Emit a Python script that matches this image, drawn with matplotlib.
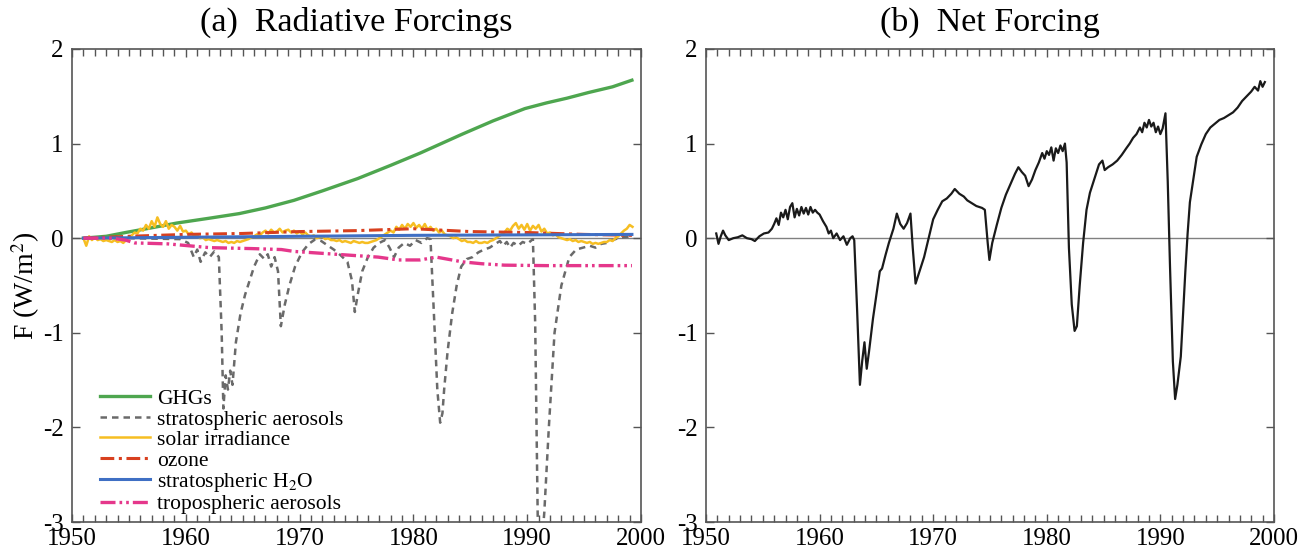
import matplotlib
matplotlib.use("Agg")
import matplotlib.pyplot as plt
from matplotlib.ticker import MultipleLocator

plt.rcParams['font.family'] = ['Liberation Serif', 'DejaVu Serif']
plt.rcParams['mathtext.fontset'] = 'stix'

# ---- data (year, W/m2) ----
ghg_years = [1951.0, 1953.0, 1954.7, 1957.0, 1959.2, 1962.0, 1964.7, 1967.0, 1969.5, 1972.0,
             1975.1, 1978.0, 1980.6, 1984.3, 1987.0, 1989.8, 1991.7, 1993.5, 1995.4, 1997.5, 1999.2]
ghg_vals = [0.0, 0.02, 0.06, 0.11, 0.16, 0.21, 0.26, 0.32, 0.40, 0.50,
            0.63, 0.77, 0.90, 1.10, 1.24, 1.37, 1.43, 1.48, 1.54, 1.60, 1.67]

strat_years = [1950.9, 1955.0, 1959.5, 1960.2, 1960.7, 1961.0, 1961.3, 1961.7, 1962.1, 1962.5,
               1962.9, 1963.15, 1963.3, 1963.5, 1963.7, 1963.9, 1964.1, 1964.4, 1964.8, 1965.2,
               1965.6, 1966.0, 1966.5, 1966.9, 1967.2, 1967.5, 1967.8, 1968.1, 1968.35, 1968.7,
               1969.1, 1969.6, 1970.2, 1970.8, 1971.4, 1971.9, 1972.5, 1973.0, 1973.6, 1974.2,
               1974.6, 1974.85, 1975.1, 1975.5, 1976.0, 1976.5, 1977.0, 1977.5, 1977.9, 1978.3,
               1978.7, 1979.2, 1979.7, 1980.2, 1980.7, 1981.2, 1981.5, 1981.8, 1982.1, 1982.35,
               1982.55, 1982.7, 1983.0, 1983.4, 1983.8, 1984.2, 1984.7, 1985.2, 1985.7, 1986.2,
               1986.7, 1987.2, 1987.6, 1987.9, 1988.2, 1988.5, 1988.8, 1989.2, 1989.6, 1990.0,
               1990.5, 1990.7, 1990.95, 1991.3, 1991.5, 1991.9, 1992.4, 1993.0, 1993.7, 1994.3,
               1994.9, 1995.5, 1996.0, 1996.5, 1997.0, 1997.5, 1998.0, 1998.5, 1999.2]
strat_vals = [0.0, 0.0, -0.01, -0.05, -0.2, -0.12, -0.25, -0.15, -0.2, -0.14,
              -0.2, -1.0, -1.8, -1.45, -1.6, -1.4, -1.55, -1.1, -0.8, -0.6,
              -0.45, -0.3, -0.17, -0.22, -0.17, -0.3, -0.2, -0.35, -0.93, -0.7,
              -0.5, -0.3, -0.15, -0.06, -0.01, -0.03, -0.08, -0.12, -0.18, -0.25,
              -0.45, -0.78, -0.6, -0.35, -0.2, -0.1, -0.05, -0.02, -0.1, -0.2,
              -0.1, -0.05, -0.08, -0.02, -0.05, 0.0, -0.01, -0.8, -1.6, -1.95,
              -1.85, -1.6, -1.2, -0.8, -0.5, -0.3, -0.22, -0.2, -0.15, -0.12,
              -0.1, -0.06, -0.03, -0.08, -0.04, -0.1, -0.05, -0.08, -0.04, -0.06,
              -0.01, -0.9, -3.2, -3.2, -2.9, -2.0, -1.0, -0.5, -0.2, -0.12,
              -0.1, -0.08, -0.1, -0.06, -0.05, -0.02, 0.0, 0.01, 0.02]

# solar irradiance, quarterly from 1951.0
solar_start = 1951.0
solar_vals = [0.0, -0.08, 0.02, -0.02, 0.01, -0.02, -0.01, -0.03,
              -0.02, -0.03, -0.04, -0.02, -0.04, -0.03, -0.05, -0.02,
              0.0, 0.03, 0.06, 0.05, 0.1, 0.08, 0.14, 0.1,
              0.18, 0.12, 0.22, 0.15, 0.12, 0.18, 0.1, 0.14,
              0.12, 0.08, 0.13, 0.07, 0.08, 0.04, 0.06, 0.02,
              0.03, 0.0, 0.01, -0.02, -0.01, -0.02, -0.03, -0.02,
              -0.03, -0.04, -0.03, -0.05, -0.04, -0.05, -0.03, -0.04,
              -0.03, -0.02, -0.01, 0.01, 0.02, 0.04, 0.03, 0.06,
              0.08, 0.05, 0.09, 0.06, 0.07, 0.1, 0.06, 0.08,
              0.09, 0.06, 0.08, 0.05, 0.07, 0.04, 0.06, 0.03,
              0.02, 0.03, 0.0, 0.01, 0.02, -0.01, 0.0, -0.02,
              -0.02, -0.03, -0.02, -0.04, -0.03, -0.04, -0.05, -0.03,
              -0.04, -0.05, -0.04, -0.05, -0.05, -0.04, -0.03, -0.02,
              0.0, 0.02, 0.04, 0.06, 0.08, 0.06, 0.12, 0.09,
              0.14, 0.1, 0.15, 0.12, 0.16, 0.11, 0.14, 0.1,
              0.15, 0.09, 0.12, 0.08, 0.1, 0.06, 0.08, 0.04,
              0.03, 0.02, 0.0, 0.01, -0.01, -0.03, -0.02, -0.04,
              -0.04, -0.05, -0.03, -0.05, -0.05, -0.04, -0.05, -0.03,
              -0.02, 0.0, 0.02, 0.04, 0.06, 0.1, 0.08, 0.13,
              0.16, 0.1, 0.14, 0.09, 0.15, 0.08, 0.13, 0.1,
              0.14, 0.07, 0.1, 0.05, 0.06, 0.03, 0.04, 0.01,
              0.0, -0.01, -0.02, -0.01, -0.03, -0.02, -0.04, -0.03,
              -0.04, -0.05, -0.04, -0.06, -0.05, -0.06, -0.05, -0.04,
              -0.04, -0.02, -0.03, 0.0, 0.02, 0.05, 0.08, 0.1,
              0.14, 0.12]
solar_years = [solar_start + 0.25 * i for i in range(len(solar_vals))]

ozone_years = [1951.0, 1955.0, 1960.0, 1965.0, 1970.0, 1975.0, 1980.0, 1985.0, 1990.0, 1995.0, 1999.2]
ozone_vals = [0.0, 0.02, 0.04, 0.05, 0.07, 0.08, 0.10, 0.07, 0.06, 0.04, 0.03]

h2o_years = [1951.0, 1960.0, 1970.0, 1980.0, 1990.0, 1999.2]
h2o_vals = [0.0, 0.01, 0.02, 0.03, 0.035, 0.04]

trop_years = [1951.0, 1953.5, 1954.7, 1955.5, 1958.4, 1962.1, 1965.8, 1968.4, 1969.5, 1973.2,
              1976.9, 1978.7, 1980.6, 1982.0, 1984.3, 1986.0, 1988.0, 1991.7, 1999.2]
trop_vals = [0.0, 0.0, -0.02, -0.05, -0.06, -0.10, -0.11, -0.12, -0.14, -0.17,
             -0.20, -0.23, -0.23, -0.20, -0.25, -0.27, -0.285, -0.29, -0.29]

net_years = [1950.9, 1951.1, 1951.3, 1951.5, 1951.7, 1952.0, 1952.4, 1952.8, 1953.2, 1953.6,
             1954.0, 1954.3, 1954.7, 1955.1, 1955.5, 1955.8, 1956.0, 1956.2, 1956.4, 1956.6,
             1956.8, 1957.0, 1957.2, 1957.4, 1957.6, 1957.8, 1958.0, 1958.2, 1958.4, 1958.6,
             1958.8, 1959.0, 1959.2, 1959.4, 1959.6, 1959.8, 1960.0, 1960.3, 1960.6, 1960.8,
             1961.0, 1961.2, 1961.5, 1961.8, 1962.1, 1962.4, 1962.7, 1962.9, 1963.05, 1963.3,
             1963.55, 1963.75, 1963.95, 1964.15, 1964.35, 1964.7, 1965.0, 1965.3, 1965.5, 1965.8,
             1966.1, 1966.5, 1966.8, 1967.1, 1967.4, 1967.7, 1968.0, 1968.2, 1968.45, 1968.8,
             1969.2, 1969.6, 1970.0, 1970.4, 1970.8, 1971.2, 1971.6, 1971.9, 1972.3, 1972.7,
             1973.0, 1973.4, 1973.8, 1974.3, 1974.55, 1974.8, 1974.95, 1975.2, 1975.6, 1976.0,
             1976.4, 1976.8, 1977.2, 1977.5, 1977.8, 1978.1, 1978.4, 1978.7, 1979.0, 1979.3,
             1979.6, 1979.8, 1980.0, 1980.2, 1980.4, 1980.6, 1980.8, 1981.0, 1981.2, 1981.4,
             1981.6, 1981.75, 1981.95, 1982.2, 1982.45, 1982.65, 1982.9, 1983.2, 1983.5, 1983.8,
             1984.2, 1984.6, 1984.9, 1985.1, 1985.4, 1985.8, 1986.2, 1986.6, 1987.0, 1987.3,
             1987.6, 1987.9, 1988.2, 1988.4, 1988.6, 1988.8, 1989.0, 1989.2, 1989.4, 1989.6,
             1989.8, 1990.0, 1990.2, 1990.45, 1990.65, 1990.85, 1991.1, 1991.3, 1991.5, 1991.8,
             1992.0, 1992.2, 1992.4, 1992.6, 1992.9, 1993.2, 1993.6, 1994.0, 1994.4, 1994.8,
             1995.2, 1995.6, 1996.0, 1996.4, 1996.8, 1997.2, 1997.6, 1998.0, 1998.3, 1998.6,
             1998.8, 1999.0, 1999.2]
net_vals = [0.05, -0.06, 0.02, 0.08, 0.03, -0.02, 0.0, 0.01, 0.03, 0.0,
            -0.01, -0.03, 0.02, 0.05, 0.06, 0.1, 0.15, 0.21, 0.14, 0.27,
            0.22, 0.3, 0.2, 0.33, 0.37, 0.22, 0.31, 0.24, 0.33, 0.26,
            0.32, 0.25, 0.33, 0.27, 0.3, 0.27, 0.25, 0.18, 0.12, 0.05,
            0.08, 0.0, 0.05, -0.02, 0.02, -0.07, 0.0, 0.02, -0.02, -0.75,
            -1.55, -1.3, -1.1, -1.38, -1.2, -0.85, -0.6, -0.35, -0.32, -0.18,
            -0.05, 0.1, 0.26, 0.15, 0.1, 0.16, 0.26, -0.1, -0.48, -0.35,
            -0.2, 0.0, 0.2, 0.3, 0.39, 0.42, 0.47, 0.52, 0.47, 0.44,
            0.4, 0.37, 0.34, 0.32, 0.3, -0.05, -0.23, -0.05, 0.14, 0.32,
            0.46, 0.57, 0.68, 0.75, 0.7, 0.66, 0.55, 0.62, 0.72, 0.8,
            0.9, 0.84, 0.92, 0.88, 0.96, 0.82, 0.95, 0.9, 0.98, 0.92,
            1.0, 0.8, -0.1, -0.7, -0.98, -0.93, -0.5, -0.05, 0.3, 0.48,
            0.63, 0.78, 0.82, 0.72, 0.75, 0.78, 0.82, 0.88, 0.95, 1.0,
            1.06, 1.1, 1.17, 1.12, 1.22, 1.17, 1.25, 1.18, 1.22, 1.12,
            1.18, 1.1, 1.16, 1.32, 0.6, -0.3, -1.3, -1.7, -1.55, -1.25,
            -0.8, -0.35, 0.05, 0.38, 0.62, 0.86, 0.99, 1.1, 1.17, 1.21,
            1.25, 1.27, 1.3, 1.33, 1.38, 1.45, 1.5, 1.55, 1.6, 1.56,
            1.66, 1.6, 1.65]

fig = plt.figure(figsize=(13.05, 5.52), dpi=100)
ax1 = fig.add_axes([0.0552, 0.0543, 0.436, 0.857])
ax2 = fig.add_axes([0.541, 0.0543, 0.4352, 0.857])

for ax in (ax1, ax2):
    ax.set_xlim(1950, 2000)
    ax.set_ylim(-3, 2)
    ax.axhline(0, color='#808080', lw=1.0, zorder=1)
    ax.xaxis.set_major_locator(MultipleLocator(10))
    ax.xaxis.set_minor_locator(MultipleLocator(1))
    ax.yaxis.set_major_locator(MultipleLocator(1))
    ax.tick_params(which='both', direction='in', top=True, right=True,
                   color='#555555', width=1.0, labelsize=18)
    ax.tick_params(which='major', length=6, pad=4)
    ax.tick_params(which='minor', length=5)
    ax.tick_params(axis='y', pad=6)
    for s in ax.spines.values():
        s.set_color('#555555')
        s.set_linewidth(1.2)
    ax.set_yticks([-3, -2, -1, 0, 1, 2])
    ax.set_yticklabels(['-3', '-2', '-1', '0', '1', '2'])

# (a) individual forcings
ax1.plot(ghg_years, ghg_vals, color='#4ea64f', lw=2.4, label='GHGs', zorder=3)
ax1.plot(strat_years, strat_vals, color='#6a6a6a', lw=1.8, dashes=(2.6, 2.0),
         label='stratospheric aerosols', zorder=3)
ax1.plot(solar_years, solar_vals, color='#f6be22', lw=1.8, label='solar irradiance', zorder=3)
ax1.plot(ozone_years, ozone_vals, color='#d8401f', lw=2.2, dashes=(4.5, 1.5, 1.0, 1.5),
         label='ozone', zorder=4)
ax1.plot(h2o_years, h2o_vals, color='#3f6fc4', lw=2.2, label='stratospheric H$_2$O', zorder=5)
ax1.plot(trop_years, trop_vals, color='#e5378b', lw=2.4, dashes=(4.5, 1.2, 0.8, 1.2, 0.8, 1.2),
         label='tropospheric aerosols', zorder=5)

ax1.set_title('(a)  Radiative Forcings', fontsize=24.5, pad=13)
ax1.set_ylabel('F (W/m$^2$)', fontsize=20, labelpad=1)
ax1.legend(loc='lower left', bbox_to_anchor=(0.05, 0.016), frameon=False, fontsize=15.5,
           handlelength=2.3, handletextpad=0.33, labelspacing=0.02, borderpad=0, borderaxespad=0)

# (b) net forcing
ax2.plot(net_years, net_vals, color='#1a1a1a', lw=1.6, zorder=3)
ax2.set_title('(b)  Net Forcing', fontsize=24.5, pad=13)

fig.savefig('out.png', dpi=100)
